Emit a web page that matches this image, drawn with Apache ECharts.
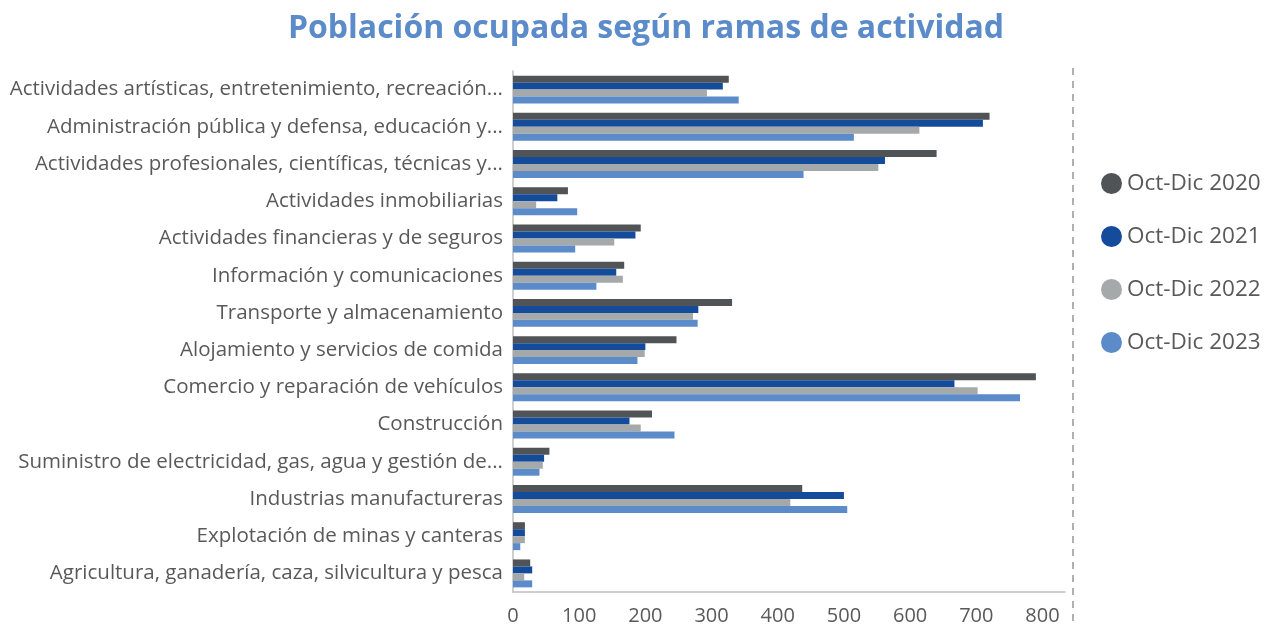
<!DOCTYPE html>
<html>
<head>
<meta charset="utf-8">
<script src="https://cdn.jsdelivr.net/npm/echarts@6/dist/echarts.min.js"></script>
<style>
  html, body { margin: 0; padding: 0; background: #fff; }
  #chart { width: 1276px; height: 627px; }
</style>
</head>
<body>
<div id="chart"></div>
<script>
// categories, top to bottom as in the picture
const categories = [
  'Actividades artísticas, entretenimiento, recreación...',
  'Administración pública y defensa, educación y...',
  'Actividades profesionales, científicas, técnicas y...',
  'Actividades inmobiliarias',
  'Actividades financieras y de seguros',
  'Información y comunicaciones',
  'Transporte y almacenamiento',
  'Alojamiento y servicios de comida',
  'Comercio y reparación de vehículos',
  'Construcción',
  'Suministro de electricidad, gas, agua y gestión de...',
  'Industrias manufactureras',
  'Explotación de minas y canteras',
  'Agricultura, ganadería, caza, silvicultura y pesca'
];

const seriesNames = ['Oct-Dic 2020', 'Oct-Dic 2021', 'Oct-Dic 2022', 'Oct-Dic 2023'];

const oct2020 = [326, 720, 640, 83, 193, 168, 331, 247, 790, 210, 55, 437, 18, 26];
const oct2021 = [317, 710, 562, 67, 185, 156, 280, 200, 667, 176, 47, 500, 18, 29];
const oct2022 = [293, 614, 552, 35, 153, 166, 272, 199, 702, 193, 45, 419, 18, 17];
const oct2023 = [341, 515, 439, 97, 94, 126, 279, 188, 766, 244, 40, 505, 11, 29];

const xTicks = [0, 100, 200, 300, 400, 500, 600, 700, 800];

const colors = ['#505456', '#154b9b', '#a6a9aa', '#5b8bc9'];
const textColor = '#595959';

const chart = echarts.init(document.getElementById('chart'));

const values = [oct2020, oct2021, oct2022, oct2023];

const option = {
  animation: false,
  textStyle: { fontFamily: '"Open Sans", sans-serif' },
  title: {
    text: 'Población ocupada según ramas de actividad',
    left: 641,
    textAlign: 'center',
    top: 8,
    textStyle: {
      color: '#5b8bc9',
      fontSize: 32,
      fontWeight: 'bold',
      fontFamily: '"Open Sans", sans-serif'
    }
  },
  legend: {
    orient: 'vertical',
    left: 1096,
    top: 167,
    icon: 'circle',
    itemWidth: 21,
    itemHeight: 21,
    itemGap: 30,
    data: seriesNames,
    textStyle: { color: textColor, fontSize: 22.5, fontFamily: '"Open Sans", sans-serif' }
  },
  grid: {
    left: 513,
    right: 211,
    top: 71,
    bottom: 35,
    containLabel: false
  },
  xAxis: {
    type: 'value',
    min: 0,
    max: 834,
    interval: 100,
    splitLine: { show: false },
    axisTick: { show: false },
    axisLine: { show: true, lineStyle: { color: '#bfbfbf', width: 1.5 } },
    axisLabel: {
      color: textColor,
      fontSize: 20,
      margin: 14,
      showMaxLabel: false,
      formatter: v => (xTicks.includes(v) ? String(v) : '')
    }
  },
  yAxis: {
    type: 'category',
    data: categories,
    inverse: true,
    axisTick: { show: false },
    axisLine: { show: true, lineStyle: { color: '#bfbfbf', width: 1.5 } },
    axisLabel: { color: textColor, fontSize: 20.5, margin: 10, padding: [0, 0, 4, 0] }
  },
  series: values.map((d, i) => ({
    name: seriesNames[i],
    type: 'bar',
    data: d,
    barGap: '0%',
    barCategoryGap: '25%',
    itemStyle: { color: colors[i] }
  })),
  graphic: [{
    type: 'line',
    shape: { x1: 1073, y1: 68, x2: 1073, y2: 627 },
    style: { stroke: '#b0b0b0', lineWidth: 2, lineDash: [7, 6] }
  }]
};

chart.setOption(option);
</script>
</body>
</html>
